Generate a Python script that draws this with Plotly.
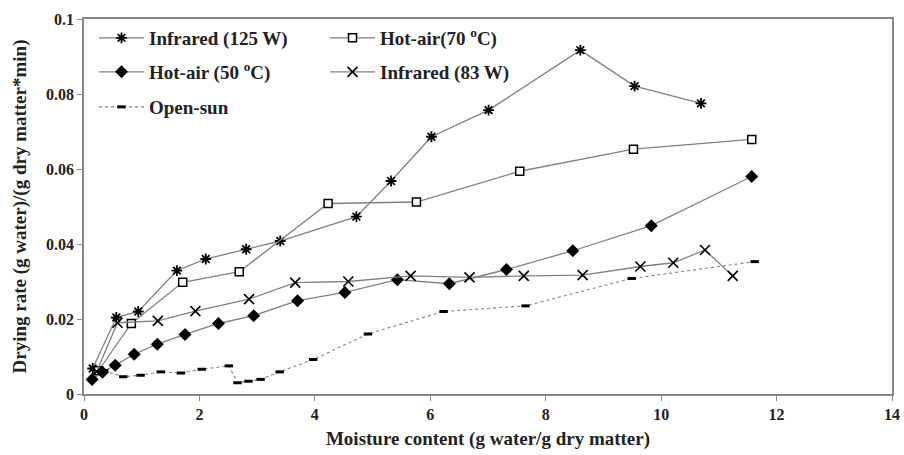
import plotly.graph_objects as go

# ---- data ----
ir125_x = [0.15, 0.56, 0.94, 1.61, 2.11, 2.81, 3.40, 4.72, 5.32, 6.02, 7.01, 8.60, 9.54, 10.69]
ir125_y = [0.0068, 0.0204, 0.0220, 0.0329, 0.0360, 0.0386, 0.0408, 0.0473, 0.0568, 0.0686, 0.0757, 0.0917, 0.0821, 0.0775]

ha70_x = [0.25, 0.82, 1.71, 2.69, 4.23, 5.76, 7.55, 9.52, 11.57]
ha70_y = [0.0062, 0.0188, 0.0298, 0.0326, 0.0508, 0.0512, 0.0594, 0.0653, 0.0679]

ha50_x = [0.14, 0.32, 0.54, 0.87, 1.27, 1.75, 2.33, 2.94, 3.70, 4.52, 5.43, 6.33, 7.32, 8.47, 9.83, 11.57]
ha50_y = [0.0039, 0.0058, 0.0077, 0.0106, 0.0133, 0.0159, 0.0188, 0.0209, 0.0249, 0.0271, 0.0305, 0.0294, 0.0332, 0.0382, 0.0449, 0.0580]

ir83_x = [0.22, 0.58, 1.28, 1.93, 2.86, 3.66, 4.58, 5.66, 6.68, 7.62, 8.64, 9.64, 10.21, 10.76, 11.24]
ir83_y = [0.0060, 0.0190, 0.0195, 0.0221, 0.0253, 0.0297, 0.0300, 0.0315, 0.0311, 0.0315, 0.0317, 0.0340, 0.0350, 0.0384, 0.0315]

sun_x = [0.35, 0.68, 0.98, 1.33, 1.68, 2.04, 2.51, 2.66, 2.85, 3.06, 3.39, 3.97, 4.92, 6.23, 7.65, 9.49, 11.62]
sun_y = [0.0062, 0.0046, 0.0050, 0.0059, 0.0056, 0.0066, 0.0075, 0.0030, 0.0034, 0.0039, 0.0059, 0.0092, 0.0160, 0.0220, 0.0235, 0.0308, 0.0353]

x_ticks = [0, 2, 4, 6, 8, 10, 12, 14]
y_ticks = [0, 0.02, 0.04, 0.06, 0.08, 0.1]
y_tick_text = ["0", "0.02", "0.04", "0.06", "0.08", "0.1"]

names = ["<b>Infrared (125 W)</b>", "<b>Hot-air(70 <sup>o</sup>C)</b>", "<b>Hot-air (50 <sup>o</sup>C)</b>",
         "<b>Infrared (83 W)</b>", "<b>Open-sun</b>"]

LINE = "#808080"
FONT = "Liberation Serif"

fig = go.Figure()
fig.add_trace(go.Scatter(x=ir125_x, y=ir125_y, name=names[0], mode="lines+markers",
                         line=dict(color=LINE, width=1.3),
                         marker=dict(symbol="asterisk-open", size=9, color="black",
                                     line=dict(color="black", width=1.8)),
                         legend="legend", showlegend=True))
fig.add_trace(go.Scatter(x=ha70_x, y=ha70_y, name=names[1], mode="lines+markers",
                         line=dict(color=LINE, width=1.3),
                         marker=dict(symbol="square", size=8, color="white",
                                     line=dict(color="black", width=1.5)),
                         legend="legend2", showlegend=True))
fig.add_trace(go.Scatter(x=ha50_x, y=ha50_y, name=names[2], mode="lines+markers",
                         line=dict(color=LINE, width=1.3),
                         marker=dict(symbol="diamond", size=10, color="black",
                                     line=dict(color="black", width=0)),
                         legend="legend3", showlegend=True))
fig.add_trace(go.Scatter(x=ir83_x, y=ir83_y, name=names[3], mode="lines+markers",
                         line=dict(color=LINE, width=1.3),
                         marker=dict(symbol="x-thin-open", size=10, color="black",
                                     line=dict(color="black", width=1.6)),
                         legend="legend4", showlegend=True))
fig.add_trace(go.Scatter(x=sun_x, y=sun_y, name=names[4], mode="lines+markers",
                         line=dict(color=LINE, width=1.1, dash="dot"),
                         marker=dict(symbol="line-ew-open", size=6, color="black",
                                     line=dict(color="black", width=3)),
                         legend="legend5", showlegend=True))

leg_common = dict(font=dict(family=FONT, size=19, color="#222222"),
                  bgcolor="rgba(0,0,0,0)", borderwidth=0, itemwidth=45,
                  xanchor="left", yanchor="middle", xref="paper", yref="paper")

def yfrac(py):
    return (394 - py) / (394 - 19)

def xfrac(px):
    return (px - 84) / (892 - 84)

fig.update_layout(
    width=904, height=455,
    showlegend=True,
    margin=dict(l=84, r=12, t=19, b=61, autoexpand=False),
    paper_bgcolor="white", plot_bgcolor="white",
    font=dict(family=FONT, size=14, color="#222222"),
    legend=dict(x=xfrac(94), y=yfrac(38), **leg_common),
    legend2=dict(x=xfrac(325), y=yfrac(38), **leg_common),
    legend3=dict(x=xfrac(94), y=yfrac(72), **leg_common),
    legend4=dict(x=xfrac(325), y=yfrac(72), **leg_common),
    legend5=dict(x=xfrac(94), y=yfrac(107), **leg_common),
    xaxis=dict(range=[0, 14], tickvals=x_ticks, ticks="outside", ticklen=5,
               tickcolor="#888888", showline=True, linecolor="#888888", linewidth=1.5,
               mirror=True, showgrid=False, zeroline=False, automargin=False,
               tickfont=dict(family=FONT, size=16, color="#222222", weight="bold"),
               title=dict(text="<b>Moisture content (g water/g dry matter)</b>",
                          font=dict(family=FONT, size=19, color="#222222"), standoff=10)),
    yaxis=dict(range=[0, 0.1], tickvals=y_ticks, ticktext=y_tick_text, ticks="outside",
               ticklen=5, tickcolor="#888888", showline=True, linecolor="#888888",
               linewidth=1.5, mirror=True, showgrid=False, zeroline=False, automargin=False,
               tickfont=dict(family=FONT, size=16, color="#222222", weight="bold"),
               title=dict(text="<b>Drying rate (g water)/(g dry matter*min)</b>",
                          font=dict(family=FONT, size=19, color="#222222"), standoff=14)),
)

fig.write_html("out.html", config={"displayModeBar": False},
               post_script="document.body.style.margin='0';document.body.style.padding='0';")
